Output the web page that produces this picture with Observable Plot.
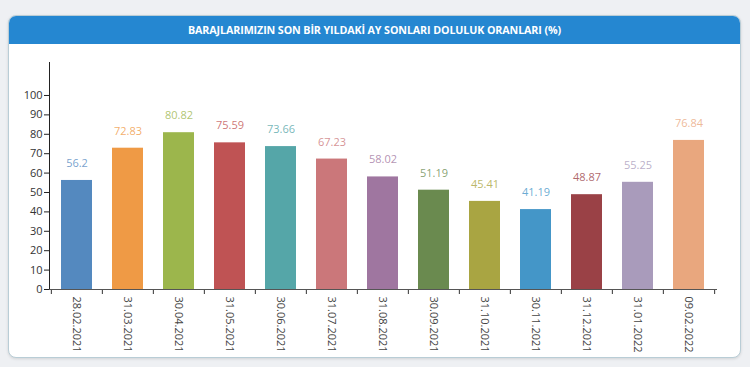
<!DOCTYPE html>
<html>
<head>
<meta charset="utf-8">
<script src="https://cdn.jsdelivr.net/npm/d3@7"></script>
<script src="https://cdn.jsdelivr.net/npm/@observablehq/plot@0.6"></script>
<style>
  html, body { margin: 0; padding: 0; width: 750px; height: 367px; overflow: hidden; background: #eef0f3; font-family: "Open Sans", sans-serif; }
  #card { position: absolute; left: 8px; top: 15px; width: 731px; height: 341px; background: #fff; border: 1px solid #b9cdd6; border-radius: 8px; box-shadow: 0 1px 3px rgba(0,0,0,0.12); overflow: hidden; }
  #header { position: absolute; left: 0; top: 0; width: 100%; height: 28px; background: #2587d1; color: #fff; font-weight: bold; font-size: 10.7px; line-height: 28px; text-align: center; letter-spacing: -0.1px; }
  #chart { position: absolute; left: 0; top: 44px; }
</style>
</head>
<body>
<div id="card"><div id="header">BARAJLARIMIZIN SON BİR YILDAKİ AY SONLARI DOLULUK ORANLARI (%)</div></div>
<div id="chart"></div>
<script>
const dates = ["28.02.2021","31.03.2021","30.04.2021","31.05.2021","30.06.2021","31.07.2021","31.08.2021","30.09.2021","31.10.2021","30.11.2021","31.12.2021","31.01.2022","09.02.2022"];
const values = [56.2, 72.83, 80.82, 75.59, 73.66, 67.23, 58.02, 51.19, 45.41, 41.19, 48.87, 55.25, 76.84];
const colors = ["#5489bf","#ef9a45","#9cb64c","#bf5354","#55a6a8","#cb777a","#9f76a0","#6a8a4f","#a9a542","#4496c8","#9a4146","#a99bbb","#e9a77e"];
const yTicks = [0,10,20,30,40,50,60,70,80,90,100];

const data = dates.map((d, i) => ({date: d, value: values[i], color: colors[i]}));

const W = 750, H = 323, ML = 49, MR = 34, MT = 18, MB = 78;
const step = (W - ML - MR) / dates.length;

const chart = Plot.plot({
  width: W, height: H,
  marginLeft: ML, marginRight: MR, marginTop: MT, marginBottom: MB,
  style: {fontFamily: "'Open Sans', sans-serif", fontSize: "11px", color: "#333", background: "transparent"},
  x: {type: "band", domain: dates, paddingInner: 0.4, paddingOuter: 0.2, label: null},
  y: {domain: [0, 117], label: null},
  marks: [
    Plot.barY(data, {x: "date", y: "value", fill: "color"}),
    Plot.text(data, {x: "date", y: "value", text: d => String(d.value), fill: "color", fillOpacity: 0.8, dy: -17, fontSize: 11}),
    Plot.axisY({ticks: yTicks, tickSize: 5, tickPadding: 2, label: null, stroke: "#222", fill: "#333", fontSize: 11}),
    Plot.axisX({tickSize: 0, tickPadding: 7, tickRotate: 90, label: null, fill: "#444", fontSize: 11}),
    Plot.axisX({tickSize: 5, text: null, dx: -step / 2, label: null, stroke: "#333"}),
    Plot.axisX({ticks: [dates[dates.length - 1]], tickSize: 5, text: null, dx: step / 2, label: null, stroke: "#333"}),
    Plot.frame({anchor: "left", stroke: "#222"}),
    Plot.frame({anchor: "bottom", stroke: "#555"})
  ]
});
document.getElementById("chart").appendChild(chart);
</script>
</body>
</html>
